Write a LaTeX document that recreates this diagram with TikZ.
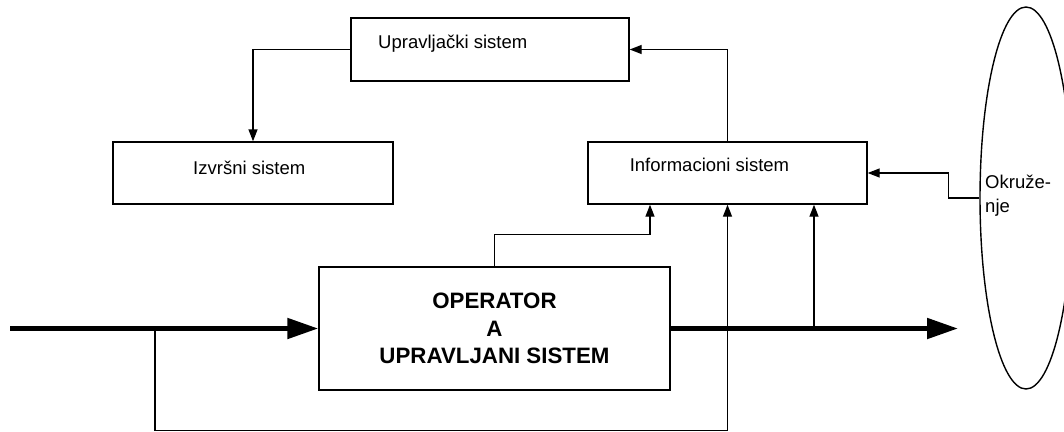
\documentclass[tikz,border=0pt]{standalone}
\usepackage{fontspec}
\setmainfont{Liberation Sans}
\usetikzlibrary{arrows.meta,shapes.geometric,calc}
\begin{document}
\begin{tikzpicture}[x=1pt,y=-1pt,
  box/.style={draw=black, line width=1.4pt, inner sep=0pt, rectangle},
  lbl/.style={inner sep=0pt, font=\fontsize{18.5}{24}\selectfont},
  tip/.style={draw=black, line width=1.4pt, -{Triangle[length=12pt,width=9pt]}},
  flow/.style={draw=black, line width=5pt, -{Triangle[length=31pt,width=20pt]}}]
\useasboundingbox (0,0) rectangle (1064,431);
% boxes
\node[box, minimum width=278pt, minimum height=63pt] (upr) at (490,49.5) {};
\node[box, minimum width=280pt, minimum height=62pt] (izv) at (253,173) {};
\node[box, minimum width=279pt, minimum height=62pt] (info) at (727.5,173) {};
\node[box, minimum width=351pt, minimum height=123pt, align=center,
      font=\fontsize{22.3}{27.2}\selectfont\bfseries] (op) at (494.5,328.5)
      {OPERATOR\\A\\UPRAVLJANI SISTEM};
\begin{scope}
\clip (0,0) rectangle (1064,431);
\node[draw=black, line width=1.4pt, ellipse, inner sep=0pt,
      minimum width=92pt, minimum height=382pt] (okr) at (1026,198) {};
\end{scope}
% labels
\node[lbl, anchor=base west] (uprlbl) at (378,48.3) {Upravljački sistem};
\node[lbl, anchor=base west] (izvlbl) at (193,174.5) {Izvršni sistem};
\node[lbl, anchor=base west] (infolbl) at (629.6,171) {Informacioni sistem};
\node[lbl, anchor=base west, align=left] (okrlbl) at (985,212) {Okruže-\\nje};
% coordinates on the flow lines
\coordinate (inl) at (10,328.5);
\coordinate (outl) at (958,328.5);
\coordinate (b1) at (155,328.5);
\coordinate (b2) at (814,328.5);
% connectors
\draw[tip] (b1) |- ($(info.south)+(0,226)$) -- (info.south);
\draw[tip] (op.north) -- ++(0,-32) -| ($(info.south)+(-77.5,0)$);
\draw[tip] (b2) -- ($(info.south)+(86.5,0)$);
\draw[flow] (inl) -- (op.west);
\draw[flow] (op.east) -- (outl);
\draw[tip] (upr.west) -| (izv.north);
\draw[tip] (info.north) |- (upr.east);
\draw[tip] (okr.west) -- ++(-31,0) |- (info.east);
\end{tikzpicture}
\end{document}
